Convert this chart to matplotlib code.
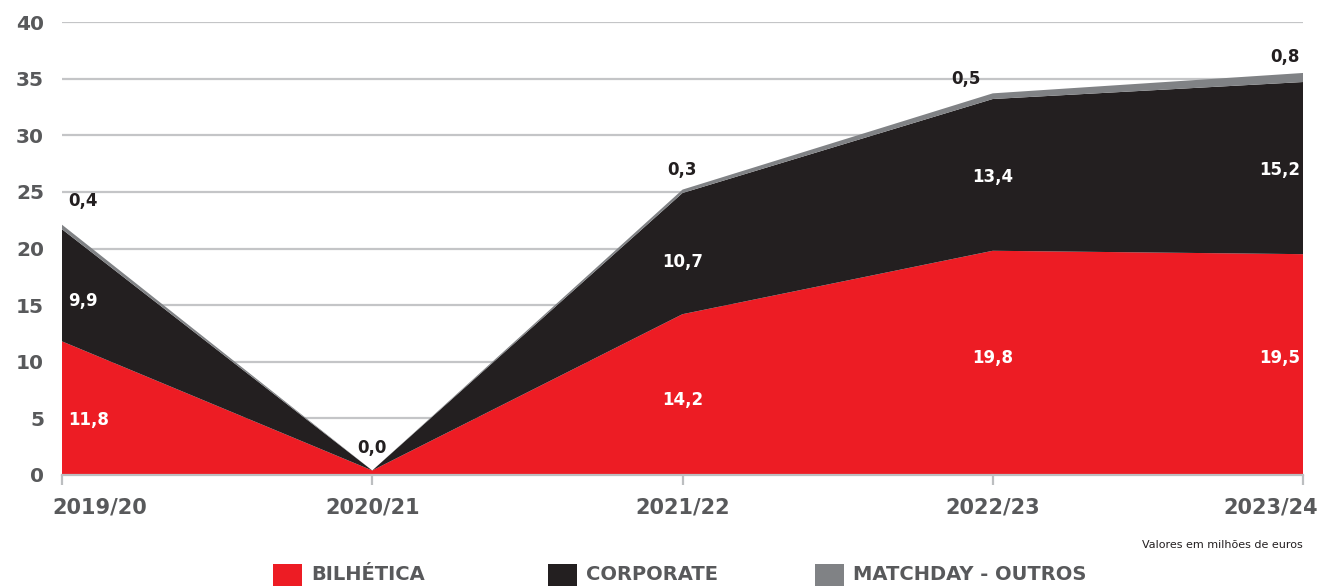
import numpy as np
import matplotlib.pyplot as plt
from matplotlib.patches import Rectangle
from matplotlib.transforms import ScaledTranslation

# Dados (milhões de euros)
seasons = ['2019/20', '2020/21', '2021/22', '2022/23', '2023/24']
bilhetica = [11.8, 0.4, 14.2, 19.8, 19.5]
corporate = [9.9, 0.0, 10.7, 13.4, 15.2]
matchday = [0.4, 0.0, 0.3, 0.5, 0.8]
series_names = ['BILHÉTICA', 'CORPORATE', 'MATCHDAY - OUTROS']

# posição vertical dos rótulos (eixo y)
bil_label_y = [4.85, None, 6.6, 10.3, 10.3]
corp_label_y = [15.4, None, 18.8, 26.3, 26.9]

RED = '#ed1c24'
BLACK = '#231f20'
GREY = '#808285'
TXT = '#58595b'
GRID = '#c4c5c7'

plt.rcParams['font.family'] = ['DejaVu Sans']

fig = plt.figure(figsize=(13.2, 5.86), dpi=100)
ax = fig.add_axes([62 / 1320, 111 / 586, 1241 / 1320, 453 / 586])

x = np.arange(len(seasons))
ax.stackplot(x, bilhetica, corporate, matchday,
             colors=[RED, BLACK, GREY], linewidth=0, zorder=3)

ax.set_xlim(0, len(seasons) - 1)
ax.set_ylim(0, 40)
ax.set_yticks(np.arange(0, 41, 5))
ax.yaxis.grid(True, color=GRID, linewidth=1.6, zorder=0)
ax.set_axisbelow(True)

for s in ['top', 'right', 'left']:
    ax.spines[s].set_visible(False)
ax.spines['bottom'].set_color('#bcbec0')
ax.spines['bottom'].set_linewidth(1.6)
ax.spines['bottom'].set_zorder(4)

ax.set_xticks(x)
ax.set_xticklabels(seasons)
ax.tick_params(axis='x', length=7, width=1.6, color='#bcbec0', pad=9,
               labelsize=15, labelcolor=TXT)
ax.tick_params(axis='y', length=0, pad=13, labelsize=14.5, labelcolor=TXT)
for lab in ax.get_xticklabels() + ax.get_yticklabels():
    lab.set_fontweight('heavy')

xl = ax.get_xticklabels()
xl[0].set_horizontalalignment('left')
xl[0].set_transform(xl[0].get_transform() + ScaledTranslation(-0.10, 0, fig.dpi_scale_trans))
xl[-1].set_horizontalalignment('right')
xl[-1].set_transform(xl[-1].get_transform() + ScaledTranslation(0.15, 0, fig.dpi_scale_trans))


def fmt(v):
    return f'{v:.1f}'.replace('.', ',')


# Rótulos dos valores
n = len(seasons)
grey_dy = [24, 22, 20, 14, 16]
grey_dx = [6, 0, 0, -27, -3]
for i in range(n):
    if i == 0:
        ha, dx = 'left', 6
    elif i == n - 1:
        ha, dx = 'right', -3
    else:
        ha, dx = 'center', 0
    kw = dict(va='center', fontsize=12, fontweight='heavy',
              textcoords='offset pixels', zorder=6)
    total = bilhetica[i] + corporate[i] + matchday[i]
    if bil_label_y[i] is not None:
        ax.annotate(fmt(bilhetica[i]), (x[i], bil_label_y[i]), xytext=(dx, 0),
                    color='white', ha=ha, **kw)
    if corp_label_y[i] is not None:
        ax.annotate(fmt(corporate[i]), (x[i], corp_label_y[i]), xytext=(dx, 0),
                    color='white', ha=ha, **kw)
    ax.annotate(fmt(matchday[i]), (x[i], total), xytext=(grey_dx[i], grey_dy[i]),
                color=BLACK, ha=ha, **kw)

fig.text(1303 / 1320, (586 - 545) / 586, 'Valores em milhões de euros',
         ha='right', va='center', fontsize=8, color=BLACK)

# Legenda
leg_colors = [RED, BLACK, GREY]
leg_x = [273, 548, 815]
for name, c, px in zip(series_names, leg_colors, leg_x):
    fig.add_artist(Rectangle((px / 1320, 0), 29 / 1320, 22 / 586,
                             transform=fig.transFigure, color=c, lw=0))
    fig.text((px + 38) / 1320, (586 - 575) / 586, name, ha='left', va='center',
             fontsize=14, fontweight='heavy', color=TXT)

fig.savefig('out.png', dpi=100, facecolor='white')
